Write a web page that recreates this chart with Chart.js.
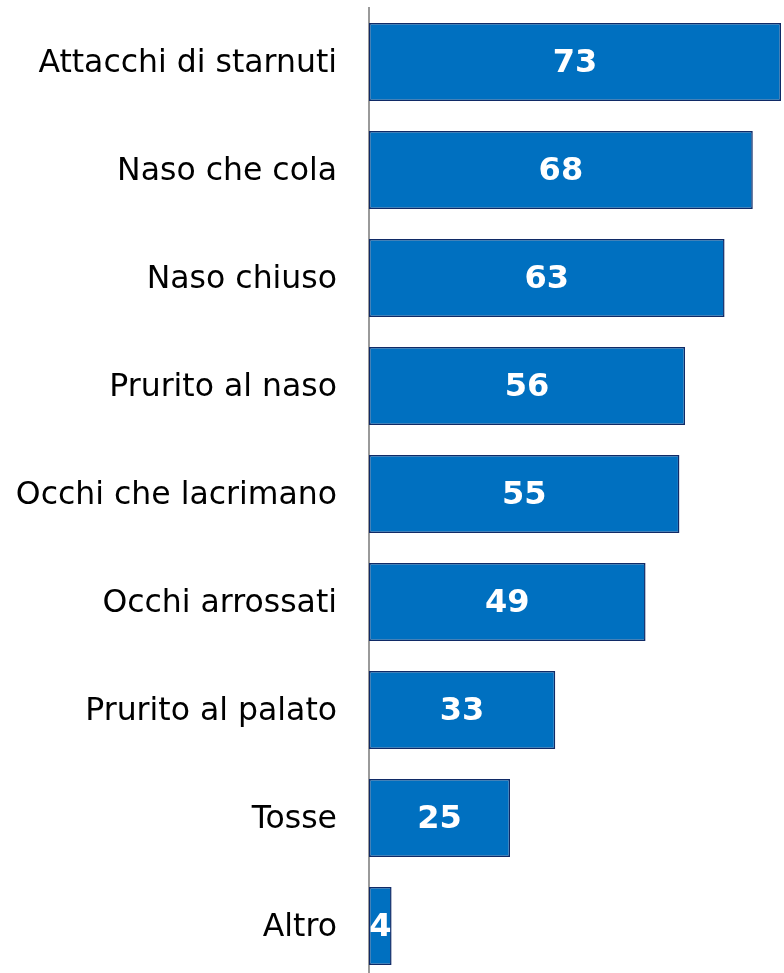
<!DOCTYPE html>
<html>
<head>
<meta charset="utf-8">
<script src="https://cdn.jsdelivr.net/npm/chart.js@4/dist/chart.umd.min.js"></script>
<style>
  html, body { margin: 0; padding: 0; background: #fff; overflow: hidden; }
  #wrap { width: 784px; height: 980px; }
</style>
</head>
<body>
<div id="wrap"><canvas id="sintomi"></canvas></div>
<script>
var categorie = ['Attacchi di starnuti', 'Naso che cola', 'Naso chiuso', 'Prurito al naso',
                 'Occhi che lacrimano', 'Occhi arrossati', 'Prurito al palato', 'Tosse', 'Altro'];
var valori = [73, 68, 63, 56, 55, 49, 33, 25, 4];

// scrive il valore al centro di ogni barra
var etichetteValori = {
    id: 'etichetteValori',
    afterDatasetsDraw: function (chart) {
        var ctx = chart.ctx;
        var meta = chart.getDatasetMeta(0);
        ctx.save();
        ctx.fillStyle = '#ffffff';
        ctx.font = 'bold 32px "DejaVu Sans", Verdana, sans-serif';
        ctx.textAlign = 'center';
        ctx.textBaseline = 'middle';
        meta.data.forEach(function (bar, i) {
            var cx = (bar.base + bar.x) / 2;
            ctx.fillText(String(valori[i]), cx, bar.y + 2);
        });
        ctx.restore();
    }
};

new Chart(document.getElementById('sintomi'), {
    type: 'bar',
    data: {
        labels: categorie,
        datasets: [{
            data: valori,
            backgroundColor: '#0070C0',
            borderColor: '#102A66',
            borderWidth: 1.5,
            borderSkipped: false,
            categoryPercentage: 1.0,
            barPercentage: 0.722
        }]
    },
    options: {
        indexAxis: 'y',
        responsive: true,
        maintainAspectRatio: false,
        animation: false,
        layout: { padding: { top: 8, right: 3, bottom: 0, left: 0 } },
        plugins: {
            legend: { display: false },
            tooltip: { enabled: false }
        },
        scales: {
            x: {
                display: false,
                min: 0,
                max: 73
            },
            y: {
                afterFit: function (scale) {
                    scale.width = 369;
                    scale.paddingTop = 0;
                    scale.paddingBottom = 0;
                },
                grid: { display: false, drawTicks: false },
                border: { display: true, color: '#9a9a9a', width: 2 },
                ticks: {
                    padding: 32,
                    labelOffset: 2,
                    color: '#000000',
                    font: { family: '"DejaVu Sans", Verdana, sans-serif', size: 31.5 }
                }
            }
        }
    },
    plugins: [etichetteValori]
});
</script>
</body>
</html>
